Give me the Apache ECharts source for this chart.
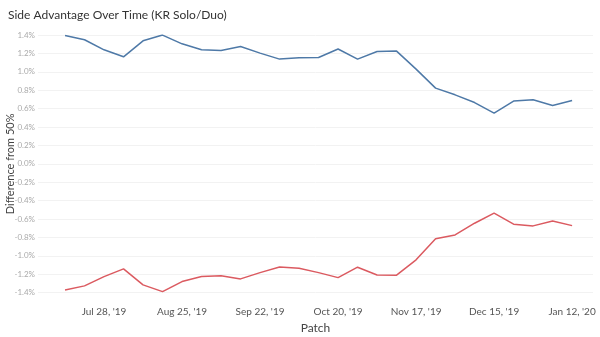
<!DOCTYPE html>
<html>
<head>
<meta charset="utf-8">
<script src="https://cdn.jsdelivr.net/npm/echarts@6/dist/echarts.min.js"></script>
<style>html,body{margin:0;padding:0;background:#fff}#c{width:600px;height:337px}</style>
</head>
<body>
<div id="c"></div>
<script>
const patches = ["2019-07-14","2019-07-21","2019-07-28","2019-08-04","2019-08-11","2019-08-18","2019-08-25","2019-09-01","2019-09-08","2019-09-15","2019-09-22","2019-09-29","2019-10-06","2019-10-13","2019-10-20","2019-10-27","2019-11-03","2019-11-10","2019-11-17","2019-11-24","2019-12-01","2019-12-08","2019-12-15","2019-12-22","2019-12-29","2020-01-05","2020-01-12"];
const blueSide = [1.395,1.348,1.239,1.163,1.337,1.399,1.304,1.239,1.232,1.275,1.203,1.138,1.152,1.155,1.248,1.138,1.221,1.225,1.029,0.823,0.750,0.666,0.551,0.682,0.696,0.634,0.688];
const redSide = [-1.370,-1.326,-1.225,-1.141,-1.315,-1.388,-1.279,-1.225,-1.217,-1.250,-1.182,-1.120,-1.134,-1.182,-1.236,-1.123,-1.207,-1.210,-1.043,-0.815,-0.772,-0.645,-0.536,-0.655,-0.674,-0.620,-0.671];
const xTickLabels = ["2019-07-28","2019-08-25","2019-09-22","2019-10-20","2019-11-17","2019-12-15","2020-01-12"];

const DAY = 86400000;
const ORIGIN = Date.parse("2019-07-14T00:00:00Z");
const dayOf = s => Math.round((Date.parse(s + "T00:00:00Z") - ORIGIN) / DAY);
const months = ["Jan","Feb","Mar","Apr","May","Jun","Jul","Aug","Sep","Oct","Nov","Dec"];
const fmtDay = v => { const d = new Date(ORIGIN + Math.round(v) * DAY); return months[d.getUTCMonth()] + " " + d.getUTCDate() + ", '" + String(d.getUTCFullYear()).slice(2); };

const chart = echarts.init(document.getElementById('c'), null, {renderer:'canvas'});
chart.setOption({
  animation: false,
  backgroundColor: '#fff',
  title: {
    text: 'Side Advantage Over Time (KR Solo/Duo)',
    left: 3, top: 4,
    textStyle: {fontFamily: 'Lato', fontSize: 12, fontWeight: 'normal', color: '#333'}
  },
  grid: {left: 38, right: 7, top: 35, bottom: 44.3, outerBoundsMode: 'none', containLabel: false},
  xAxis: {
    type: 'value',
    min: dayOf(patches[0]) - 9.7,
    max: dayOf(patches[patches.length - 1]) + 7.5,
    name: 'Patch', nameLocation: 'middle', nameGap: 29, nameMoveOverlap: false,
    nameTextStyle: {fontFamily: 'Lato', fontSize: 12, color: '#444'},
    axisLine: {show: false}, axisTick: {show: false},
    splitLine: {show: false},
    axisLabel: {
      customValues: xTickLabels.map(dayOf),
      formatter: v => fmtDay(v),
      fontFamily: 'Lato', fontSize: 10, color: '#555', margin: 14,
      hideOverlap: false
    }
  },
  yAxis: {
    type: 'value', min: -1.4, max: 1.4, interval: 0.2,
    name: 'Difference from 50%', nameLocation: 'middle', nameGap: 22, nameRotate: 90, nameMoveOverlap: false,
    nameTextStyle: {fontFamily: 'Lato', fontSize: 11, color: '#444'},
    axisLine: {show: false}, axisTick: {show: false},
    splitLine: {lineStyle: {color: '#f2f2f2', width: 1}},
    axisLabel: {
      formatter: v => v.toFixed(1) + '%',
      fontFamily: 'Lato', fontSize: 8, color: '#aaa', margin: 3
    }
  },
  series: [
    {name: 'Blue', type: 'line', data: patches.map((p, i) => [dayOf(p), blueSide[i]]),
     showSymbol: false, lineStyle: {color: '#4e79a7', width: 1.5}, itemStyle: {color: '#4e79a7'}},
    {name: 'Red', type: 'line', data: patches.map((p, i) => [dayOf(p), redSide[i]]),
     showSymbol: false, lineStyle: {color: '#db5a60', width: 1.5}, itemStyle: {color: '#db5a60'}}
  ]
});
</script>
</body>
</html>
